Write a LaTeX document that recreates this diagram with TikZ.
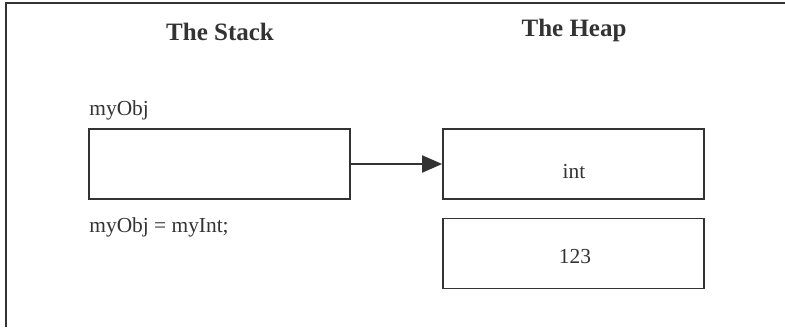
\documentclass[tikz,border=0pt]{standalone}
\usepackage{fontspec}
\setmainfont{Liberation Serif}
\usetikzlibrary{arrows.meta}

\definecolor{ink}{HTML}{333333}

\begin{document}
\begin{tikzpicture}[x=0.5pt, y=-0.5pt]

\tikzstyle title=[font=\fontsize{12.5}{14}\selectfont\bfseries, text=ink, inner sep=0pt]
\tikzstyle code=[font=\fontsize{10.7}{12}\selectfont, text=ink, inner sep=0pt]
\tikzstyle cell=[draw=ink, line width=0.9pt, minimum width=130.5pt, minimum height=35pt, inner sep=0pt]

\useasboundingbox (0,0) rectangle (785,327);

% frame
\coordinate (c1) at (6,327);
\coordinate (c2) at (6,3);
\coordinate (c3) at (785,3);
\draw [ink, line width=1pt] (c1) -- (c2) -- (c3);

\node (stack) [title] at (220,32) {The Stack};
\node (heap)  [title] at (574,30) {The Heap};

\node (name)   [code, anchor=west] at (89,110) {myObj};
\node (assign) [code, anchor=west] at (89,227) {myObj = myInt;};

\node (ref)  [cell] at (219.5,164) {};
\node (box)  [cell] at (573.5,164) {};
\node (val)  [cell] at (573.5,253.5) {};

\node (type) [code] at (574,172) {int};
\node (num)  [code] at (575,257) {123};

\draw [ink, line width=1pt, -{Triangle[length=10pt, width=8.5pt]}] (ref.east) -- (box.west);

\end{tikzpicture}
\end{document}
